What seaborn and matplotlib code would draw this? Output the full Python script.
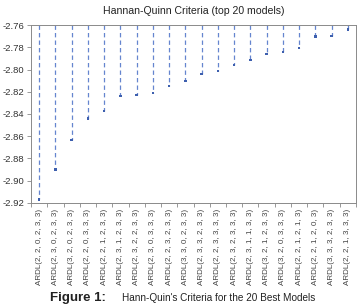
import numpy as np
import pandas as pd
import seaborn as sns
from matplotlib import pyplot as plt

# top 20 ARDL models by Hannan-Quinn criterion
models = [
    "ARDL(2, 2, 0, 2, 3, 3)", "ARDL(2, 3, 0, 2, 3, 3)", "ARDL(3, 2, 0, 2, 3, 3)",
    "ARDL(2, 2, 0, 3, 3, 3)", "ARDL(2, 2, 1, 2, 3, 3)", "ARDL(2, 3, 1, 2, 3, 3)",
    "ARDL(2, 3, 2, 2, 3, 3)", "ARDL(2, 3, 0, 3, 3, 3)", "ARDL(2, 2, 3, 2, 3, 3)",
    "ARDL(3, 3, 0, 2, 3, 3)", "ARDL(2, 3, 3, 2, 3, 3)", "ARDL(2, 2, 3, 3, 3, 3)",
    "ARDL(2, 3, 2, 3, 3, 3)", "ARDL(2, 3, 1, 1, 3, 3)", "ARDL(3, 2, 1, 2, 3, 3)",
    "ARDL(3, 2, 0, 3, 3, 3)", "ARDL(2, 2, 1, 2, 1, 3)", "ARDL(2, 2, 1, 2, 0, 3)",
    "ARDL(3, 3, 3, 2, 3, 3)", "ARDL(2, 2, 1, 3, 3, 3)",
]
hq = [-2.9167, -2.8898, -2.8634, -2.8442, -2.8373, -2.8238, -2.8227, -2.8209,
      -2.8149, -2.8101, -2.8041, -2.8011, -2.7960, -2.7915, -2.7861, -2.7840,
      -2.7807, -2.7705, -2.7699, -2.7639]
yticks = [-2.92, -2.90, -2.88, -2.86, -2.84, -2.82, -2.80, -2.78, -2.76]

df = pd.DataFrame({"model": models, "hq": hq})
df["pos"] = np.arange(len(df))

sns.set_style("ticks")
plt.rcParams["font.family"] = ["Liberation Sans", "DejaVu Sans"]

fig = plt.figure(figsize=(3.59, 3.08), dpi=100)
ax = fig.add_axes([0.0864, 0.341, 0.9052, 0.5778])

line_col = "#6585cf"
ax.vlines(df["pos"], yticks[-1], df["hq"], colors=line_col, linestyles=(0, (3.5, 2.5)), linewidth=0.9)
sns.scatterplot(data=df, x="pos", y="hq", ax=ax, color="#3d5fae", s=3, marker="s",
                edgecolor="none", zorder=3, legend=False)

ax.set_xlim(-0.5, len(df) - 0.5)
ax.set_ylim(yticks[0], yticks[-1])
ax.set_yticks(yticks)
ax.set_yticklabels([f"{v:.2f}" for v in yticks], fontsize=6.8, color="#333333")
ax.set_xticks(df["pos"])
ax.set_xticklabels(df["model"], rotation=90, fontsize=5.8, color="#444444")
ax.set_xticks(np.arange(-0.5, len(df)), minor=True)
ax.tick_params(axis="x", which="major", length=0, pad=4)
ax.tick_params(axis="x", which="minor", length=3, width=0.6, color="#888888")
ax.tick_params(axis="y", length=3, width=0.6, color="#888888", pad=2)
ax.set_xlabel("")
ax.set_ylabel("")
for s in ax.spines.values():
    s.set_visible(True)
    s.set_color("#8a8a8a")
    s.set_linewidth(0.7)

fig.text(0.54, 0.965, "Hannan-Quinn Criteria (top 20 models)", ha="center", va="center",
         fontsize=7.6, color="#222222")
fig.text(0.139, 0.032, "Figure 1:", ha="left", va="center", fontsize=9.5, fontweight="bold", color="#222222")
fig.text(0.34, 0.032, "Hann-Quin's Criteria for the 20 Best Models", ha="left", va="center",
         fontsize=7.2, color="#222222")

fig.savefig("out.png", dpi=100)
